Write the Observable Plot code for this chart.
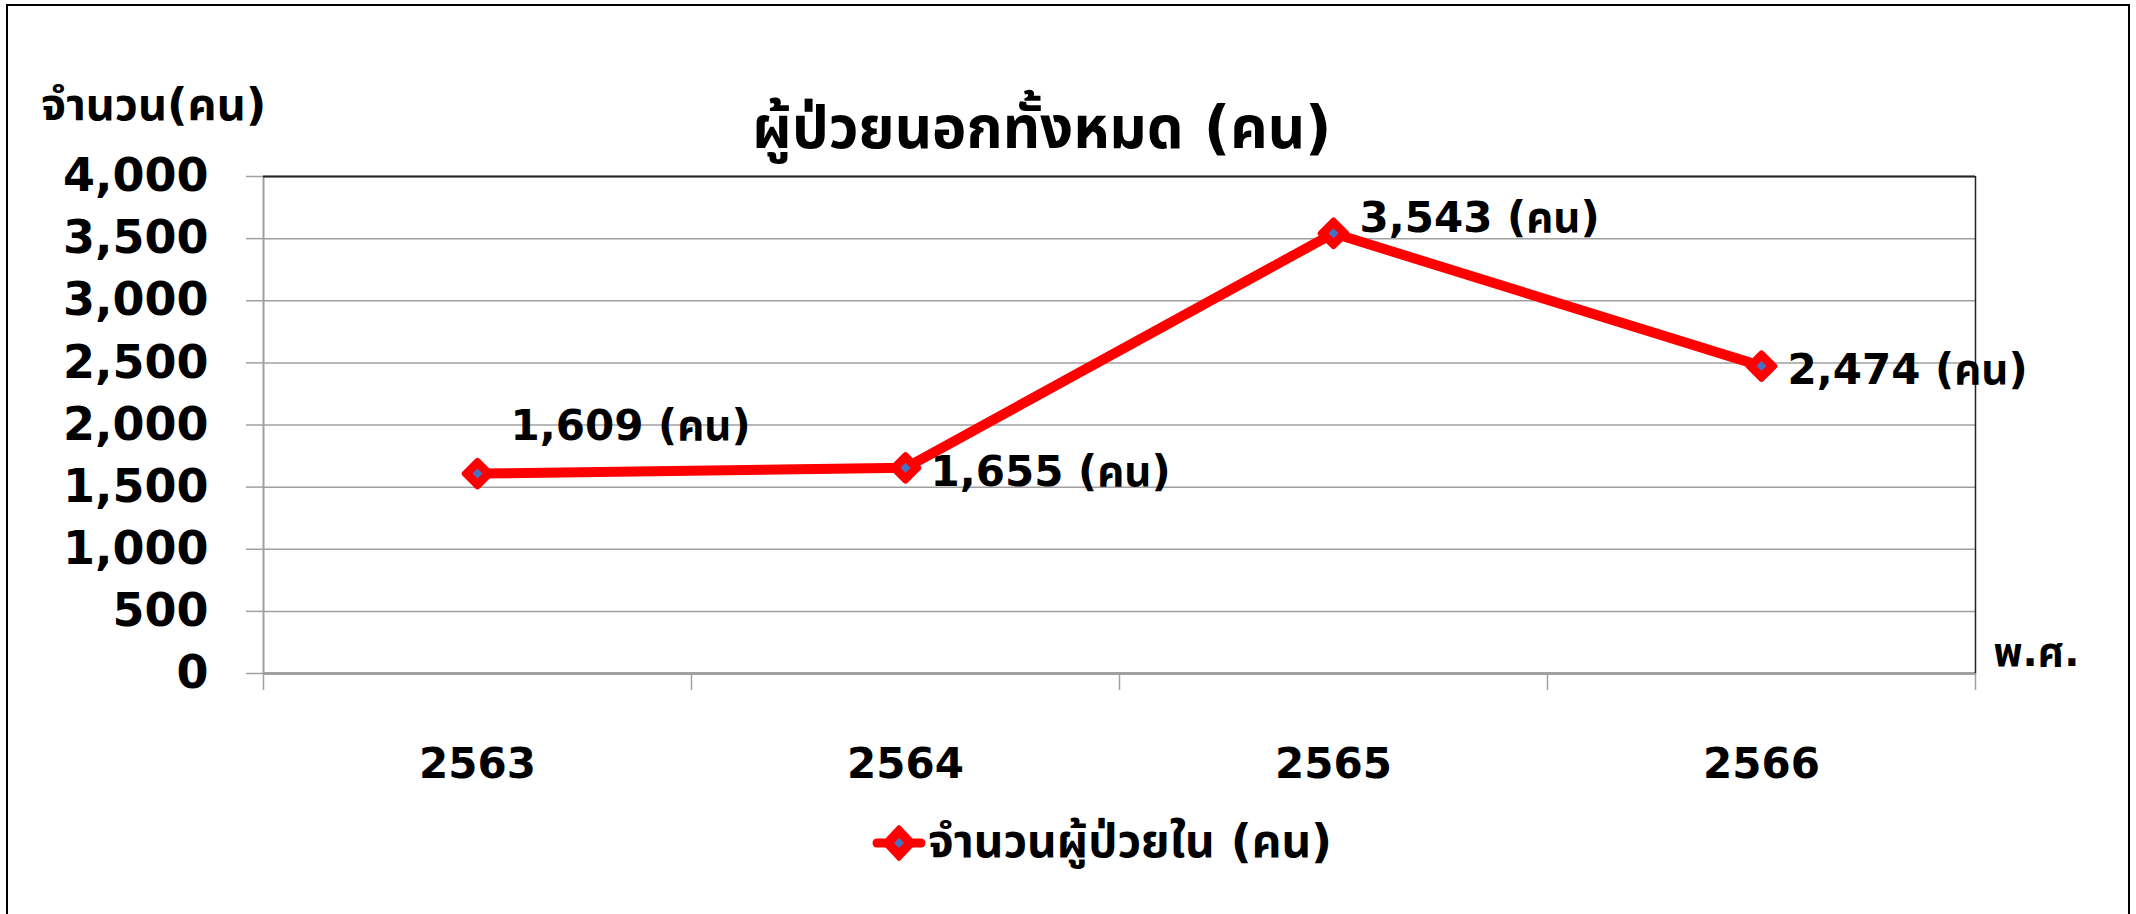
<!DOCTYPE html>
<html><head><meta charset="utf-8">
<script src="https://cdn.jsdelivr.net/npm/d3@7"></script>
<script src="https://cdn.jsdelivr.net/npm/@observablehq/plot@0.6"></script>
<style>
body{margin:0;background:#fff;}
#wrap{position:relative;width:2136px;height:914px;overflow:hidden;font-family:"DejaVu Sans","Noto Sans Thai","Noto Sans Thai UI","Kanit","Prompt","Noto Sans",sans-serif;font-weight:bold;color:#000;background:#fff;}
#border{position:absolute;left:6px;top:4px;width:2124px;height:940px;border:2px solid #000;box-sizing:border-box;}
.t{position:absolute;white-space:nowrap;line-height:normal;}
#title{left:1042px;transform:translateX(-50%);top:86px;font-size:58px;}
#ylab{left:41px;top:72px;font-size:45px;}
#legend{left:872px;top:808px;font-size:46px;display:flex;align-items:center;}
#chart{position:absolute;left:0;top:126px;}
</style></head><body>
<div id="wrap">
<div id="border"></div>
<div id="chart"></div>
<div class="t" id="title"></div>
<div class="t" id="ylab"></div>
<div class="t" id="legend"></div>
</div>
<script>
const chartTitle = "ผู้ป่วยนอกทั้งหมด (คน)";
const yAxisTitle = "จำนวน(คน)";
const xAxisTitle = "พ.ศ.";
const seriesName = "จำนวนผู้ป่วยใน (คน)";
const years = ["2563", "2564", "2565", "2566"];
const patients = [1609, 1655, 3543, 2474];
const unit = "(คน)";
const yTicks = [0, 500, 1000, 1500, 2000, 2500, 3000, 3500, 4000];

const data = years.map((y, i) => ({i, year: y, value: patients[i]}));
const fmt = d3.format(",");
const RED = "#ff0000", BLUE = "#4472c4", GRID = "#a0a0a0";
const FONT = '"DejaVu Sans","Noto Sans Thai","Noto Sans Thai UI","Kanit","Prompt","Noto Sans",sans-serif';

document.getElementById("title").textContent = chartTitle;
document.getElementById("ylab").textContent = yAxisTitle;

const label = (k, dx, dy) => Plot.text(data, {
  filter: d => d.i === k, x: "i", y: "value",
  text: d => `${fmt(d.value)} ${unit}`,
  textAnchor: "start", dx, dy, fontSize: 42, fontWeight: "bold", fill: "black"
});

const plot = Plot.plot({
  width: 2136, height: 704,
  marginLeft: 263, marginRight: 161, marginTop: 50, marginBottom: 157,
  style: {fontFamily: FONT, fontSize: "46px", fontWeight: "bold", color: "black", background: "transparent", overflow: "visible"},
  x: {type: "linear", domain: [-0.5, years.length - 0.5]},
  y: {domain: [yTicks[0], yTicks[yTicks.length - 1]]},
  marks: [
    Plot.gridY(yTicks, {stroke: GRID, strokeOpacity: 1, strokeWidth: 1.5}),
    Plot.axisY({ticks: yTicks, tickSize: 17, tickPadding: 38, tickFormat: fmt, stroke: GRID, strokeWidth: 1.5, label: null, fontSize: 46}),
    Plot.axisX({ticks: d3.range(years.length + 1).map(k => k - 0.5), tickSize: 17, tickFormat: () => "", stroke: GRID, strokeWidth: 1.5, label: null}),
    Plot.axisX({ticks: d3.range(years.length), tickSize: 0, tickPadding: 75, tickFormat: k => years[k], label: null, fontSize: 42}),
    Plot.ruleX([-0.5], {stroke: GRID, strokeWidth: 2}),
    Plot.ruleY([yTicks[0]], {stroke: GRID, strokeWidth: 3}),
    Plot.ruleY([yTicks[yTicks.length - 1]], {stroke: "#222", strokeWidth: 2}),
    Plot.ruleX([years.length - 0.5], {stroke: "#222", strokeWidth: 1.5}),
    Plot.text([xAxisTitle], {frameAnchor: "bottom-right", text: d => d, textAnchor: "start", dx: 18, dy: -8, fontSize: 40, fontWeight: "bold"}),
    Plot.line(data, {x: "i", y: "value", stroke: RED, strokeWidth: 10, strokeLinejoin: "round"}),
    Plot.dot(data, {x: "i", y: "value", symbol: "diamond2", r: 11.5, fill: RED, stroke: RED, strokeWidth: 6, strokeLinejoin: "round"}),
    Plot.dot(data, {x: "i", y: "value", symbol: "diamond2", r: 4.5, fill: BLUE}),
    label(0, 33, -47),
    label(1, 25, 5),
    label(2, 26, -15),
    label(3, 26, 4)
  ]
});
document.getElementById("chart").appendChild(plot);

const leg = document.getElementById("legend");
leg.innerHTML = `<svg width="54" height="44" style="margin-right:2px"><line x1="5" y1="22" x2="49" y2="22" stroke="${RED}" stroke-width="9" stroke-linecap="round"/><path d="M27,6 L42,22 L27,38 L12,22 Z" fill="${RED}" stroke="${RED}" stroke-width="4" stroke-linejoin="round"/><path d="M27,17 L32,22 L27,27 L22,22 Z" fill="${BLUE}"/></svg><span></span>`;
leg.querySelector("span").textContent = seriesName;
</script>
</body></html>
